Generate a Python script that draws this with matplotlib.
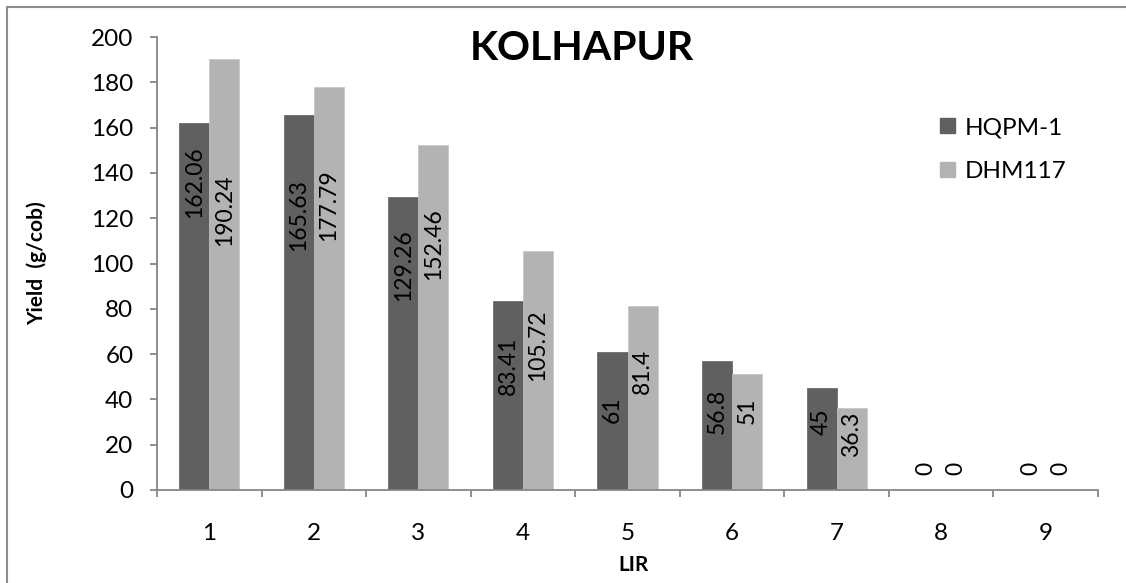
import numpy as np
import matplotlib
matplotlib.use("Agg")
import matplotlib.pyplot as plt
from matplotlib.patches import Rectangle, Patch

plt.rcParams['font.family'] = ['Lato', 'DejaVu Sans']

# yield per LIR class
lir = ['1', '2', '3', '4', '5', '6', '7', '8', '9']
hqpm = [162.06, 165.63, 129.26, 83.41, 61, 56.8, 45, 0, 0]
dhm = [190.24, 177.79, 152.46, 105.72, 81.4, 51, 36.3, 0, 0]

# where the rotated value labels sit (y, data units)
hqpm_label_y = [135.8, 121.6, 99.3, 54.7, 35.5, 34.9, 30.0, 9.3, 9.3]
dhm_label_y = [123.6, 125.6, 108.6, 64.0, 52.3, 35.1, 24.5, 9.3, 9.3]

dark = '#606060'
light = '#b3b3b3'
axis_gray = '#868686'

fig = plt.figure(figsize=(11.26, 5.83), dpi=100)
ax = fig.add_axes([157 / 1126, 1 - 490 / 583, 941 / 1126, 453 / 583])

x = np.arange(len(lir))
w = 0.287
ax.bar(x - w / 2, hqpm, w, color=dark, edgecolor=dark, linewidth=0.5)
ax.bar(x + w / 2, dhm, w, color=light, edgecolor='#c4c4c4', linewidth=0.5)

for i in range(len(lir)):
    ax.text(x[i] - w / 2, hqpm_label_y[i], f'{hqpm[i]:g}', rotation=90,
            ha='center', va='center', fontsize=16.5, color='black')
    ax.text(x[i] + w / 2, dhm_label_y[i], f'{dhm[i]:g}', rotation=90,
            ha='center', va='center', fontsize=16.5, color='black')

ax.set_xlim(-0.5, len(lir) - 0.5)
ax.set_ylim(0, 200)
ax.set_yticks(np.arange(0, 201, 20))
ax.set_xticks(x)
ax.set_xticklabels(lir)
ax.set_xticks(np.arange(-0.5, len(lir), 1), minor=True)

for side in ['top', 'right']:
    ax.spines[side].set_visible(False)
for side in ['left', 'bottom']:
    ax.spines[side].set_color(axis_gray)
    ax.spines[side].set_linewidth(1.3)

ax.tick_params(axis='y', length=5, width=1.3, color=axis_gray, pad=12, labelsize=17.5)
ax.tick_params(axis='x', which='major', length=0, pad=24, labelsize=17.5)
ax.tick_params(axis='x', which='minor', length=5, width=1.3, color=axis_gray)

ax.set_xlabel('LIR', fontsize=15, fontweight='bold')
ax.xaxis.set_label_coords((634 - 157) / 941, -(565 - 490) / 453)
ax.xaxis.label.set_va('center')
ax.set_ylabel('Yield  (g/cob)', fontsize=15, fontweight='bold')
ax.yaxis.set_label_coords(-(157 - 37) / 941, 0.5)
ax.yaxis.label.set_va('center')

fig.text(582 / 1126, 1 - 48 / 583, 'KOLHAPUR', ha='center', va='center',
         fontsize=29.5, fontweight='bold')

handles = [Patch(facecolor=dark, edgecolor=dark), Patch(facecolor=light, edgecolor=light)]
fig.legend(handles, ['HQPM-1', 'DHM117'], loc='upper left',
           bbox_to_anchor=(940 / 1126, 1 - 117 / 583), frameon=False,
           fontsize=17.5, handlelength=0.62, handleheight=0.62, handletextpad=0.4,
           labelspacing=0.95, borderpad=0, borderaxespad=0)

# chart area border
fig.patches.append(Rectangle((7.5 / 1126, -0.05), 1.2, 1 - 7.5 / 583 + 0.05,
                             transform=fig.transFigure, fill=False,
                             edgecolor='#8c8c8c', linewidth=1.5))

fig.savefig('out.png', dpi=100)
